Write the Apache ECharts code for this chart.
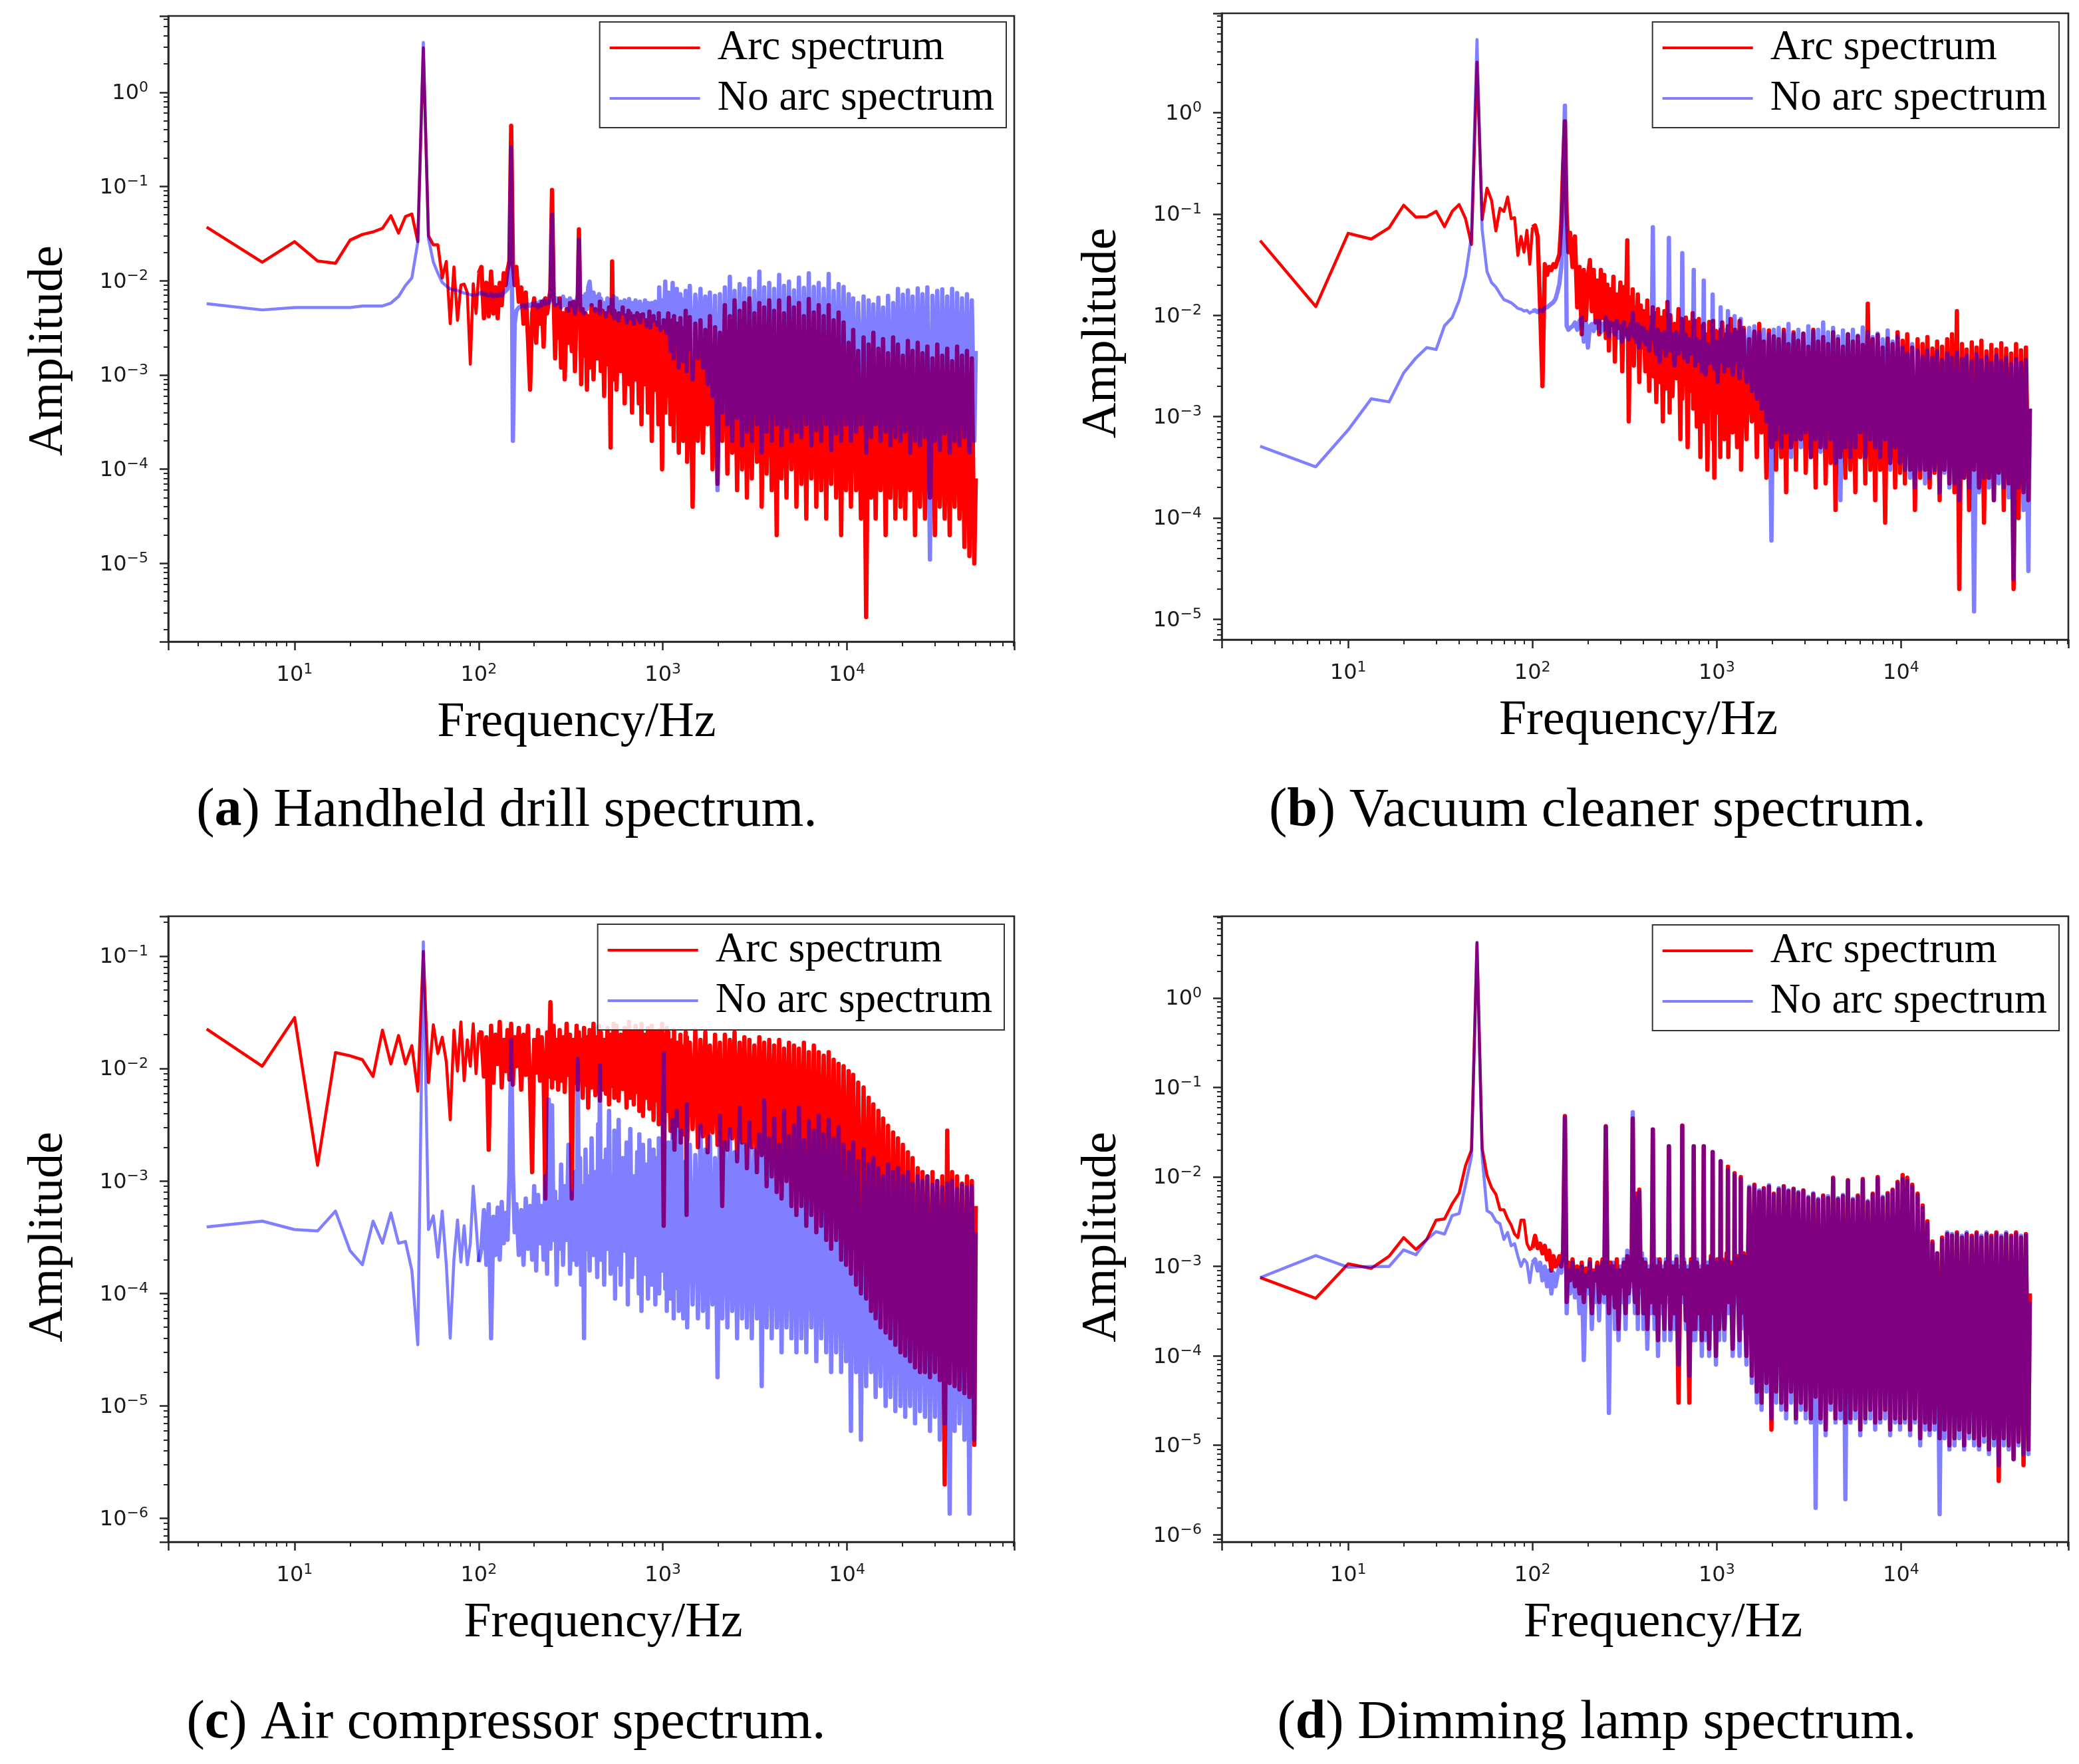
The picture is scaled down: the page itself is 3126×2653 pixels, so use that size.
<!DOCTYPE html>
<html><head><meta charset="utf-8">
<script src="https://cdn.jsdelivr.net/npm/echarts@6/dist/echarts.min.js"></script>
<style>html,body{margin:0;padding:0;background:#fff}#chart{width:3126px;height:2653px}</style>
</head><body><div id="chart"></div>
<script>
// ---------- frequencies (Hz) ----------
const FREQ_LOW = [3.33,6.67,10,13.33,16.67,20,23.33,26.67,30,33.33,
36.67,40,43.33,46.67,50,53.33,56.67,60,63.33,66.67,
70,73.33,76.67,80,83.33,86.67,90,93.33,96.67,100];
const FREQ_MID = [103.3,106.7,110,113.3,116.7,120,123.3,126.7,130,133.3,
136.7,140,143.3,146.7,150,153.3,156.7,160,165,170,
175,180,185,190,195,200,205,210,215,220,
225,230,235,240,245,250,255,260,265,270,
275,280,287,293,300,307,313,320,327,333,
340,345,350,355,360,367,373,380,387,393,
400,410,420,430,440,445,450,455,460,470,
480,490,500,510,520,530,540,545,550,555,
560,575,590,605,620,635,645,650,655,665,
680,695,710,725,740,745,750,755,765,780,
800,815,830,845,850,855,870,890,910,930,
945,950,955,970,990,1010,1030,1045,1050,1055];
const FREQ_HIGH = [1070,1100,1130,1145,1150,1155,1190,1220,1245,1250,
1255,1290,1330,1345,1350,1355,1400,1450,1500,1550,
1600,1650,1700,1750,1800,1860,1920,1980,2040,2100,
2170,2240,2310,2380,2450,2530,2610,2690,2770,2860,
2950,3040,3140,3240,3340,3440,3550,3660,3780,3900,
4020,4150,4280,4410,4550,4690,4840,4990,5150,5310,
5480,5650,5830,6010,6200,6400,6600,6810,7020,7240,
7470,7710,7950,8200,8460,8730,9000,9290,9580,9880,
10200,10500,10800,11200,11500,11900,12300,12700,13100,13500,
13900,14300,14800,15200,15700,16200,16700,17200,17800,18300,
18900,19500,20100,20700,21400,22000,22700,23400,24200,24900,
25700,26500,27300,28200,29100,30000,30900,31900,32900,33900,
35000,36100,37200,38400,39600,40800,42100,43400,44800,46200,
47600,49100,50000];

// ---------- (a) Handheld drill ----------
const A_ARC_LOW = [0.037,0.0157,0.026,0.0162,0.0153,0.027,0.031,0.033,0.036,0.049,
0.032,0.048,0.051,0.026,2.96,0.03,0.024,0.024,0.0107,0.016,
0.0035,0.014,0.0038,0.009,0.0092,0.0075,0.0013,0.0093,0.0045,0.012];
const A_ARC_MID = [0.014,0.004,0.0095,0.0042,0.0125,0.0045,0.0085,0.004,0.0095,0.0055,
0.012,0.009,0.013,0.016,0.44,0.015,0.009,0.014,0.006,0.0085,
0.0035,0.0075,0.0025,0.0007,0.0045,0.0065,0.0022,0.0055,0.0035,0.006,
0.002,0.0065,0.0045,0.006,0.008,0.092,0.007,0.0015,0.0055,0.0025,
0.0065,0.0012,0.0045,0.0009,0.005,0.0022,0.0058,0.0018,0.006,0.0011,
0.0055,0.006,0.035,0.0055,0.0008,0.005,0.0016,0.0045,0.0007,0.0042,
0.0012,0.0055,0.0009,0.005,0.0015,0.0045,0.0025,0.006,0.0011,0.0048,
0.0006,0.0045,0.0013,0.0052,0.00017,0.016,0.0009,0.0048,0.0014,0.0042,
0.0007,0.0045,0.0011,0.0052,0.0005,0.0043,0.0012,0.0048,0.0008,0.0045,
0.0004,0.0042,0.0009,0.0045,0.0005,0.0038,0.0012,0.0043,0.0003,0.0044,
0.0008,0.0038,0.0004,0.0047,0.0009,0.004,0.0002,0.0042,0.0007,0.0036,
0.0003,0.0045,0.0006,0.0032,0.0001,0.0038,0.0004,0.0033,0.0006,0.003];
const A_ARC_HIGH = [0.0045,0.0003,0.0038,0.0002,0.0042,0.0005,0.0035,0.00015,0.004,0.0003,
0.0032,0.0002,0.0048,0.0004,0.0036,0.00012,0.0041,0.00004,0.0035,0.0002,
0.0038,0.00015,0.003,0.0003,0.0042,0.0001,0.0032,0.00007,0.0028,0.0002,
0.0055,0.00009,0.0042,0.00015,0.0062,0.00006,0.0048,0.0001,0.0058,0.00005,
0.0065,0.00008,0.0045,0.00012,0.0058,0.00004,0.0052,0.00009,0.0062,0.00006,
0.0048,0.00002,0.0062,0.00008,0.0045,0.00005,0.0066,0.0001,0.0052,0.00004,
0.0058,0.00007,0.0042,0.00003,0.0064,0.00008,0.0046,0.00004,0.0055,0.00006,
0.0042,0.00003,0.0055,0.00007,0.0038,0.00005,0.0046,0.00002,0.0036,0.00006,
0.0022,0.00004,0.003,0.00006,0.0018,0.00003,0.0025,0.0000027,0.0021,0.00005,
0.0028,0.00003,0.0019,0.00006,0.0024,0.00002,0.0017,0.00005,0.0025,0.00003,
0.0021,0.00004,0.0016,0.00003,0.0023,0.00006,0.0018,0.00002,0.0022,0.00004,
0.0017,0.00003,0.002,0.00005,0.0015,0.00002,0.0021,0.00004,0.0016,0.00003,
0.0019,0.00002,0.0014,0.00004,0.002,0.00003,0.0016,0.000015,0.0018,0.000012,
0.0015,0.00001,0.00008];
const A_NO_LOW = [0.0057,0.0049,0.0052,0.0052,0.0052,0.0052,0.0054,0.0054,0.0054,0.0058,
0.0068,0.0089,0.0107,0.0256,3.39,0.028,0.0158,0.012,0.0096,0.0088,
0.0082,0.008,0.0079,0.0076,0.0074,0.0073,0.0071,0.007,0.0071,0.0072];
const A_NO_MID = [0.0075,0.0072,0.0071,0.007,0.0072,0.0068,0.0071,0.0069,0.0072,0.007,
0.0075,0.0078,0.0082,0.012,0.26,0.0002,0.0035,0.0048,0.0052,0.0054,
0.0055,0.0052,0.0056,0.0054,0.0057,0.0055,0.0058,0.0052,0.006,0.0055,
0.0062,0.0057,0.006,0.0058,0.0065,0.05,0.0062,0.0055,0.0065,0.0058,
0.006,0.0052,0.0068,0.0055,0.0062,0.0048,0.0065,0.0055,0.0058,0.0045,
0.0062,0.007,0.027,0.0065,0.0048,0.0068,0.0045,0.0072,0.005,0.0085,
0.0098,0.0055,0.0075,0.0048,0.0068,0.0052,0.0072,0.0045,0.0065,0.0052,
0.0058,0.0042,0.0065,0.0048,0.0062,0.0045,0.0068,0.004,0.0058,0.0048,
0.0065,0.0038,0.006,0.0045,0.0062,0.0036,0.0058,0.0048,0.0064,0.004,
0.0058,0.0035,0.0062,0.0042,0.0055,0.0038,0.006,0.0036,0.0056,0.0042,
0.0062,0.0033,0.0058,0.004,0.0055,0.0032,0.0058,0.0038,0.006,0.0034,
0.0056,0.0035,0.0085,0.003,0.0062,0.0032,0.0098,0.0028,0.0058,0.0036];
const A_NO_HIGH = [0.0075,0.0018,0.0095,0.0015,0.0068,0.0022,0.0082,0.0012,0.0072,0.0019,
0.0065,0.0014,0.0078,0.0011,0.0062,0.0018,0.0088,0.0009,0.0071,0.0015,
0.0082,0.0012,0.0068,0.0008,0.0075,0.0006,0.0069,0.00006,0.0072,0.0004,
0.0085,0.0003,0.011,0.0002,0.0078,0.00035,0.0092,0.00018,0.0083,0.00025,
0.0105,0.0002,0.0078,0.0003,0.0125,0.00015,0.0085,0.00025,0.0095,0.0002,
0.0082,0.0003,0.0115,0.00018,0.0088,0.00028,0.0098,0.0002,0.0079,0.00025,
0.0108,0.00022,0.0084,0.0003,0.012,0.00018,0.0086,0.00026,0.0095,0.0002,
0.0082,0.0003,0.0118,0.00016,0.0078,0.00024,0.0092,0.0002,0.0086,0.0003,
0.0072,0.0002,0.0065,0.00025,0.0058,0.0003,0.0068,0.00015,0.0062,0.00022,
0.0056,0.0003,0.0066,0.0002,0.0052,0.00025,0.0069,0.00018,0.0058,0.00022,
0.0082,0.0002,0.0071,0.00025,0.0079,0.00015,0.0068,0.0002,0.0083,0.00018,
0.0072,0.00022,0.0085,0.000011,0.0069,0.0002,0.0078,0.00016,0.0081,0.00024,
0.0068,0.00015,0.0082,0.0002,0.0074,0.00018,0.0065,0.00022,0.0072,0.00015,
0.0062,0.0002,0.0018];

// ---------- (b) Vacuum cleaner ----------
const B_ARC_LOW = [0.0546,0.0122,0.0645,0.0566,0.073,0.122,0.093,0.094,0.106,0.075,
0.106,0.124,0.09,0.05,3.15,0.088,0.18,0.136,0.068,0.114,
0.106,0.147,0.09,0.092,0.039,0.06,0.042,0.069,0.032,0.074];
const B_ARC_MID = [0.077,0.06,0.0123,0.002,0.032,0.025,0.03,0.028,0.032,0.03,
0.035,0.04,0.08,0.3,0.82,0.1,0.042,0.065,0.03,0.06,
0.012,0.03,0.0065,0.028,0.009,0.024,0.035,0.011,0.028,0.0085,
0.022,0.0065,0.028,0.0095,0.025,0.006,0.02,0.0045,0.018,0.008,
0.024,0.0035,0.016,0.0075,0.021,0.0028,0.019,0.0065,0.055,0.0009,
0.015,0.0045,0.018,0.0032,0.012,0.006,0.016,0.0022,0.0125,0.0048,
0.011,0.0028,0.014,0.0018,0.0095,0.0035,0.012,0.0025,0.0105,0.0014,
0.0115,0.0022,0.0095,0.0009,0.011,0.0019,0.0135,0.0028,0.0088,0.0011,
0.01,0.0016,0.0082,0.0024,0.0115,0.0006,0.0092,0.0015,0.0078,0.0021,
0.0095,0.0005,0.0085,0.0018,0.0105,0.0012,0.0072,0.0025,0.0088,0.0008,
0.0092,0.0004,0.0078,0.0014,0.0082,0.0009,0.0065,0.0003,0.0086,0.0012,
0.0075,0.0006,0.0088,0.00025,0.007,0.0011,0.0068,0.0004,0.0072,0.0009];
const B_ARC_HIGH = [0.0085,0.0006,0.0065,0.0009,0.0078,0.0004,0.0092,0.0007,0.0062,0.0011,
0.0072,0.0005,0.0088,0.0008,0.0066,0.0003,0.0075,0.0006,0.0058,0.0009,
0.0069,0.0004,0.0082,0.0007,0.0055,0.00025,0.0071,0.0005,0.0062,0.0003,
0.0058,0.0004,0.0072,0.00018,0.0052,0.0005,0.0068,0.0003,0.0056,0.0006,
0.0066,0.00028,0.0049,0.0004,0.0072,0.0002,0.0055,0.0005,0.0061,0.00022,
0.0052,0.00035,0.0068,0.00012,0.0058,0.0004,0.0049,0.00025,0.0065,0.0003,
0.0055,0.00018,0.0062,0.0004,0.0051,0.00022,0.013,0.0003,0.0058,0.00015,
0.0064,0.0003,0.0048,0.00009,0.0059,0.00035,0.0052,0.0002,0.0068,0.00028,
0.0056,0.00022,0.0065,0.0003,0.0048,0.00012,0.0058,0.00025,0.0052,0.0003,
0.0061,0.0002,0.0047,0.00028,0.0055,0.00015,0.0049,0.0003,0.0058,0.00022,
0.0065,0.00018,0.011,0.00002,0.0052,0.00025,0.0046,0.00012,0.0054,0.0003,
0.0048,0.0002,0.0056,0.00009,0.0044,0.00025,0.0051,0.00015,0.0046,0.00028,
0.0053,0.00012,0.0047,0.00022,0.0042,0.00002,0.0052,0.0001,0.0045,0.00018,
0.0048,0.00015,0.0012];
const B_NO_LOW = [0.00051,0.00032,0.00074,0.0015,0.0014,0.0027,0.0038,0.0048,0.0046,0.0079,
0.0095,0.014,0.0245,0.061,5.25,0.07,0.027,0.021,0.019,0.0163,
0.0143,0.0138,0.0133,0.0125,0.0117,0.0115,0.011,0.0112,0.0105,0.011];
const B_NO_MID = [0.0112,0.0108,0.0113,0.011,0.0118,0.012,0.0125,0.013,0.0135,0.0145,
0.017,0.0205,0.03,0.2,1.17,0.0079,0.0072,0.0075,0.0078,0.0085,
0.0072,0.0088,0.0095,0.0055,0.0085,0.0048,0.0078,0.0082,0.007,0.0088,
0.0075,0.0088,0.0068,0.0082,0.0072,0.0095,0.0078,0.0062,0.0085,0.007,
0.0082,0.0065,0.0088,0.006,0.0078,0.0055,0.0085,0.0062,0.0072,0.0058,
0.0081,0.0068,0.0105,0.0062,0.0078,0.0055,0.0082,0.0048,0.0076,0.0058,
0.0075,0.0052,0.0068,0.0045,0.007,0.0085,0.074,0.0075,0.0058,0.0042,
0.0072,0.0035,0.0065,0.0048,0.0068,0.004,0.0062,0.0075,0.058,0.0068,
0.0045,0.0065,0.0032,0.0068,0.0042,0.0062,0.0058,0.041,0.0055,0.0038,
0.0064,0.0035,0.0058,0.0042,0.0052,0.0055,0.028,0.0048,0.0032,0.0058,
0.0036,0.0055,0.0028,0.0045,0.022,0.004,0.0026,0.0052,0.0034,0.0048,
0.0042,0.016,0.004,0.003,0.0055,0.0022,0.0048,0.0045,0.012,0.0035];
const B_NO_HIGH = [0.0058,0.0028,0.0072,0.0035,0.011,0.0032,0.0065,0.0026,0.0038,0.0098,
0.0035,0.0068,0.0024,0.0042,0.0092,0.003,0.0071,0.0022,0.0075,0.0018,
0.0078,0.0015,0.0068,0.0012,0.0072,0.0009,0.0065,0.00006,0.0072,0.0006,
0.0075,0.0005,0.0068,0.0007,0.0082,0.0004,0.0065,0.0006,0.0072,0.0005,
0.0066,0.0007,0.0078,0.0004,0.0069,0.0006,0.0072,0.00045,0.0085,0.0005,
0.0068,0.0006,0.0075,0.00035,0.0062,0.00015,0.0071,0.0005,0.0065,0.0004,
0.0072,0.0005,0.0063,0.0007,0.0076,0.0004,0.0068,0.0006,0.0061,0.0005,
0.0066,0.0004,0.0058,0.0006,0.0071,0.0003,0.0055,0.0005,0.0062,0.00035,
0.0048,0.0003,0.0042,0.00025,0.0052,0.0002,0.0045,0.0003,0.0039,0.00022,
0.0045,0.00025,0.0038,0.0003,0.0044,0.00018,0.0036,0.00028,0.0042,0.0002,
0.0038,0.00022,0.0043,0.00015,0.0037,0.00025,0.004,0.0002,0.0035,0.000012,
0.0041,0.00018,0.0036,0.00025,0.0039,0.0002,0.0034,0.00015,0.004,0.00022,
0.0035,0.0002,0.0038,0.00016,0.0033,0.000025,0.0037,0.0002,0.0034,0.00012,
0.0036,0.00003,0.0012];

// ---------- (c) Air compressor ----------
const C_ARC_LOW = [0.0225,0.0105,0.0284,0.00138,0.0139,0.013,0.012,0.0085,0.022,0.011,
0.0197,0.011,0.016,0.0063,0.11,0.0075,0.0245,0.0136,0.019,0.0115,
0.0035,0.022,0.0095,0.026,0.0078,0.018,0.0105,0.025,0.009,0.021];
const C_ARC_MID = [0.021,0.0085,0.019,0.0019,0.024,0.0075,0.02,0.011,0.026,0.0068,
0.018,0.0095,0.022,0.008,0.025,0.0072,0.019,0.0105,0.023,0.0065,
0.02,0.0088,0.024,0.0072,0.0012,0.018,0.0092,0.022,0.0078,0.019,
0.0095,0.0007,0.021,0.0085,0.039,0.0068,0.024,0.0082,0.018,0.0065,
0.022,0.0078,0.019,0.0062,0.025,0.0088,0.02,0.0007,0.018,0.0075,
0.024,0.0065,0.021,0.0082,0.018,0.0055,0.023,0.0072,0.019,0.0045,
0.022,0.0068,0.025,0.0058,0.019,0.0075,0.024,0.0052,0.021,0.0065,
0.018,0.006,0.023,0.0048,0.02,0.007,0.025,0.0055,0.019,0.0062,
0.024,0.0052,0.02,0.0066,0.023,0.0045,0.019,0.0062,0.026,0.0055,
0.021,0.0048,0.024,0.0062,0.018,0.0042,0.022,0.0058,0.025,0.0038,
0.02,0.0055,0.023,0.0044,0.019,0.006,0.024,0.0035,0.021,0.0052,
0.018,0.0032,0.022,0.005,0.025,0.0004,0.02,0.0046,0.023,0.0042];
const C_ARC_HIGH = [0.021,0.0028,0.018,0.0024,0.022,0.0019,0.017,0.0031,0.02,0.0022,
0.016,0.0026,0.021,0.0005,0.019,0.0023,0.017,0.0029,0.022,0.002,
0.018,0.0025,0.021,0.0018,0.016,0.0027,0.02,0.0021,0.017,0.0006,
0.02,0.0019,0.018,0.0024,0.021,0.0015,0.017,0.0022,0.019,0.0013,
0.018,0.002,0.016,0.0012,0.019,0.0017,0.017,0.0009,0.018,0.0011,
0.016,0.0008,0.018,0.0007,0.015,0.001,0.017,0.0006,0.016,0.0005,
0.015,0.0006,0.017,0.0004,0.014,0.0005,0.016,0.00035,0.014,0.0004,
0.013,0.0003,0.014,0.00025,0.012,0.0003,0.011,0.0002,0.0105,0.00018,
0.0095,0.00015,0.0088,0.00012,0.0075,0.0001,0.0068,0.00009,0.0055,0.00007,
0.0048,0.00006,0.0042,0.00005,0.0036,0.000045,0.0031,0.00004,0.0027,0.000035,
0.0024,0.00003,0.0021,0.000028,0.0018,0.000025,0.0016,0.000022,0.0013,0.00002,
0.0012,0.00002,0.0011,0.000018,0.0012,0.00002,0.001,0.000017,0.0011,0.000002,
0.0028,0.000016,0.0012,0.000015,0.0011,0.000014,0.00095,0.000013,0.0011,0.000012,
0.001,0.0000045,0.0006];
const C_NO_LOW = [0.00039,0.00044,0.00037,0.00036,0.00054,0.00024,0.00018,0.00044,0.00028,0.00052,
0.00028,0.00029,0.00016,0.000035,0.134,0.00037,0.00049,0.00021,0.00054,0.00018,
0.00004,0.0002,0.00045,0.00019,0.0004,0.00018,0.00028,0.0009,0.00042,0.00019];
const C_NO_MID = [0.00025,0.00055,0.00018,0.00062,0.00004,0.00048,0.00022,0.00058,0.0002,0.00065,
0.00028,0.00052,0.0003,0.0011,0.018,0.0012,0.00035,0.00062,0.00022,0.00055,
0.00018,0.0007,0.00025,0.0006,0.0002,0.0009,0.00016,0.00075,0.00028,0.0006,
0.0002,0.0011,0.00015,0.0053,0.00025,0.0047,0.0003,0.0008,0.00012,0.00065,
0.00025,0.0014,0.00018,0.0009,0.0003,0.0021,0.00015,0.0008,0.0002,0.0012,
0.00018,0.0121,0.0003,0.0016,0.00012,0.0009,0.00004,0.0019,0.00025,0.0011,
0.00016,0.0024,0.00022,0.0012,0.00014,0.0032,0.00028,0.0107,0.0002,0.0015,
0.00012,0.0019,0.00025,0.0042,0.00015,0.0011,0.00022,0.0028,0.00009,0.0014,
0.00018,0.0035,0.00012,0.0016,0.00024,0.0022,0.00008,0.0013,0.00016,0.0029,
0.00014,0.0011,0.00022,0.0018,0.0001,0.0026,0.00016,0.0012,0.00007,0.0021,
0.00015,0.0014,0.00009,0.0023,0.00018,0.0011,0.00012,0.0019,0.00008,0.0016,
0.00013,0.0024,0.0001,0.0015,0.00016,0.0136,0.00011,0.0018,0.00007,0.0013];
const C_NO_HIGH = [0.0022,0.00009,0.0035,0.00006,0.0016,0.00011,0.0042,0.00007,0.0019,0.0001,
0.0028,0.00006,0.0015,0.00009,0.0048,0.00005,0.0021,0.00008,0.0017,0.00006,
0.0031,0.00007,0.0019,0.00005,0.0025,0.00008,0.0016,0.000018,0.0038,0.00006,
0.0022,0.00005,0.0029,0.00007,0.0018,0.00004,0.0045,0.00006,0.0021,0.00005,
0.0033,0.00004,0.0019,0.00006,0.0026,0.000015,0.0052,0.00005,0.0024,0.00004,
0.0036,0.00005,0.0021,0.00003,0.0042,0.00005,0.0025,0.00004,0.0031,0.00003,
0.0045,0.00004,0.0023,0.00003,0.0034,0.00005,0.0028,0.000025,0.0038,0.00004,
0.0026,0.00003,0.0035,0.00002,0.0024,0.00003,0.003,0.00002,0.0021,0.000025,
0.0018,0.000006,0.0022,0.00002,0.0015,0.000005,0.0019,0.000015,0.0014,0.00002,
0.0016,0.000012,0.0013,0.000015,0.0011,0.00001,0.0014,0.000012,0.0012,0.000009,
0.0013,0.00001,0.0011,0.000008,0.0012,0.00001,0.00095,0.000007,0.0011,0.000009,
0.001,0.000008,0.0011,0.000006,0.00092,0.000008,0.001,0.000005,0.00088,0.000007,
0.00095,0.0000011,0.001,0.000006,0.00085,0.000007,0.00092,0.000005,0.00088,0.0000011,
0.0009,0.000005,0.00035];

// ---------- (d) Dimming lamp ----------
const D_ARC_LOW = [0.00075,0.00044,0.00107,0.00095,0.0013,0.0021,0.00155,0.002,0.0033,0.0034,
0.005,0.0066,0.0134,0.02,4.14,0.021,0.0104,0.0076,0.0064,0.0043,
0.0043,0.0034,0.0029,0.0023,0.0021,0.0033,0.0033,0.0018,0.00155,0.0016];
const D_ARC_MID = [0.0022,0.0016,0.0018,0.0014,0.0017,0.0012,0.0015,0.0009,0.0013,0.001,
0.0011,0.0013,0.001,0.0015,0.048,0.0004,0.0011,0.0007,0.0012,0.0006,
0.001,0.0005,0.0011,0.0004,0.00095,0.0006,0.0012,0.0003,0.0009,0.0007,
0.0011,0.0004,0.0008,0.0012,0.0005,0.037,0.0009,0.0003,0.0011,0.0005,
0.001,0.00035,0.0012,0.0002,0.0009,0.0006,0.0011,0.0003,0.0013,0.0005,
0.001,0.0007,0.045,0.0008,0.0004,0.0065,0.0003,0.0072,0.0006,0.0012,
0.0003,0.0011,0.0002,0.0009,0.0004,0.0012,0.034,0.0007,0.0003,0.001,
0.00015,0.0012,0.0004,0.0009,0.0002,0.0011,0.0005,0.0013,0.022,0.0008,
0.0002,0.001,0.0003,0.0012,0.00003,0.0009,0.0006,0.0376,0.0005,0.0011,
0.00025,0.0009,0.00003,0.0012,0.0002,0.0008,0.022,0.0006,0.0002,0.0011,
0.0003,0.0009,0.00015,0.0012,0.022,0.0005,0.0002,0.001,0.00012,0.0013,
0.0004,0.019,0.0003,0.0011,0.0001,0.0012,0.0002,0.0009,0.015,0.0004];
const D_ARC_HIGH = [0.0012,0.0002,0.0014,0.0006,0.013,0.0004,0.0011,0.00012,0.0008,0.011,
0.0005,0.0013,0.00015,0.0009,0.01,0.0003,0.0014,0.0001,0.0075,0.00006,
0.0082,0.00004,0.0068,0.00003,0.0075,0.00005,0.0078,0.000015,0.0065,0.00004,
0.0072,0.00003,0.0079,0.000025,0.0069,0.00004,0.0074,0.00002,0.0066,0.00003,
0.0071,0.000025,0.0058,0.00002,0.0064,0.000035,0.0055,0.00002,0.0062,0.000015,
0.0058,0.00003,0.0098,0.00002,0.0056,0.000025,0.0061,0.000018,0.0092,0.00002,
0.0055,0.000025,0.0062,0.000015,0.0095,0.00002,0.0052,0.000025,0.0065,0.000018,
0.01,0.00002,0.0058,0.000025,0.0066,0.000015,0.0072,0.00002,0.0088,0.000018,
0.0105,0.00002,0.0098,0.000015,0.0082,0.00002,0.0065,0.000012,0.0048,0.000018,
0.0032,0.000015,0.0019,0.000018,0.0014,0.000012,0.0021,0.000015,0.0023,0.00001,
0.0022,0.000012,0.0024,0.000015,0.0021,0.00001,0.0023,0.000014,0.0022,0.000012,
0.0024,0.00001,0.0021,0.000013,0.0023,0.000009,0.0022,0.000012,0.0024,0.000004,
0.0021,0.000012,0.0023,0.00001,0.0022,0.000007,0.0024,0.000011,0.0021,0.000006,
0.0023,0.000009,0.0005];
const D_NO_LOW = [0.00075,0.00132,0.00098,0.001,0.001,0.00153,0.00135,0.002,0.00245,0.0023,
0.0037,0.0039,0.0081,0.017,4.2,0.017,0.0042,0.0039,0.0032,0.003,
0.002,0.0024,0.0017,0.0018,0.0013,0.001,0.0012,0.0011,0.00066,0.0011];
const D_NO_MID = [0.0012,0.0009,0.0011,0.0007,0.001,0.0006,0.0009,0.0005,0.00085,0.0006,
0.0008,0.001,0.00085,0.0013,0.046,0.0003,0.0009,0.0005,0.0011,0.00045,
0.0009,0.0003,0.001,0.00009,0.0008,0.0005,0.0011,0.0002,0.00085,0.0004,
0.001,0.00025,0.0009,0.0011,0.0004,0.036,0.0006,0.000023,0.001,0.0004,
0.0011,0.0002,0.0009,0.00015,0.001,0.0004,0.0012,0.0002,0.0015,0.0004,
0.0012,0.0006,0.053,0.0007,0.0003,0.0058,0.0002,0.0068,0.0005,0.0014,
0.0002,0.0012,0.00012,0.001,0.0003,0.0011,0.034,0.0006,0.0002,0.0012,
0.0001,0.0011,0.0003,0.001,0.00015,0.0012,0.0004,0.0011,0.022,0.0007,
0.00015,0.0011,0.0002,0.0013,0.00008,0.001,0.0005,0.037,0.0004,0.0012,
0.0002,0.001,0.00006,0.0011,0.00015,0.0009,0.022,0.0005,0.00015,0.0012,
0.0002,0.001,0.0001,0.0011,0.022,0.0004,0.00015,0.0011,0.0001,0.0012,
0.0003,0.019,0.0002,0.0012,0.00008,0.0011,0.00015,0.001,0.015,0.0003];
const D_NO_HIGH = [0.0011,0.00015,0.0012,0.0005,0.012,0.0003,0.001,0.0001,0.0007,0.0105,
0.0004,0.0012,0.0001,0.0008,0.0095,0.0002,0.0013,0.00008,0.0078,0.00005,
0.0079,0.00003,0.0071,0.000025,0.0073,0.00004,0.0081,0.00002,0.0063,0.00003,
0.0075,0.000025,0.0077,0.00002,0.0071,0.00003,0.0072,0.000018,0.0068,0.000025,
0.0069,0.00002,0.006,0.000018,0.0066,0.000002,0.0057,0.000018,0.006,0.000013,
0.0061,0.000025,0.0095,0.000018,0.0058,0.00002,0.0063,0.0000025,0.009,0.000018,
0.0057,0.00002,0.006,0.000013,0.0092,0.000018,0.0054,0.00002,0.0063,0.000015,
0.0097,0.000018,0.006,0.00002,0.0064,0.000013,0.007,0.000018,0.0085,0.000015,
0.0095,0.000018,0.009,0.000013,0.0078,0.000018,0.0062,0.00001,0.0045,0.000015,
0.003,0.000013,0.0018,0.000015,0.0014,0.0000017,0.002,0.000012,0.0024,0.000009,
0.0023,0.00001,0.0023,0.000012,0.0022,0.000009,0.0024,0.000012,0.0021,0.00001,
0.0023,0.000009,0.0022,0.000011,0.0024,0.000008,0.0021,0.00001,0.0023,0.000006,
0.0022,0.00001,0.0024,0.000009,0.0021,0.000007,0.0023,0.00001,0.0022,0.000008,
0.0022,0.000008,0.0004];

// ---------- labels ----------
const SERIES_NAMES = ['Arc spectrum', 'No arc spectrum'];
const CAPTION_LETTERS = ['a', 'b', 'c', 'd'];
const CAPTION_TEXTS = ['Handheld drill spectrum.', 'Vacuum cleaner spectrum.', 'Air compressor spectrum.', 'Dimming lamp spectrum.'];
const X_LIMITS = [2.06, 80900];
const Y_LIMIT_EXP = [[-5.83, 0.81], [-5.2, 0.98], [-6.21, -0.645], [-6.08, 0.915]];

// ---------- build ----------
const FREQ = FREQ_LOW.concat(FREQ_MID, FREQ_HIGH);
const N_LOW = FREQ_LOW.length;
function pairs(a, b, c) {
  const amp = a.concat(b, c);
  const n = Math.min(FREQ.length, amp.length);
  const out = [];
  for (let i = 0; i < n; i++) out.push([FREQ[i], amp[i]]);
  return out;
}
const ARC = [pairs(A_ARC_LOW, A_ARC_MID, A_ARC_HIGH), pairs(B_ARC_LOW, B_ARC_MID, B_ARC_HIGH),
             pairs(C_ARC_LOW, C_ARC_MID, C_ARC_HIGH), pairs(D_ARC_LOW, D_ARC_MID, D_ARC_HIGH)];
const NOARC = [pairs(A_NO_LOW, A_NO_MID, A_NO_HIGH), pairs(B_NO_LOW, B_NO_MID, B_NO_HIGH),
               pairs(C_NO_LOW, C_NO_MID, C_NO_HIGH), pairs(D_NO_LOW, D_NO_MID, D_NO_HIGH)];

const LAYOUT = [
  {grid: {left: 253, top: 24, width: 1272, height: 941}, legend: {right: 1613, top: 33}, cap: [762, 1220], xShift: -22, yShift: 33},
  {grid: {left: 1837, top: 20, width: 1273, height: 942}, legend: {right: 30, top: 33}, cap: [2402, 1220], xShift: -10, yShift: 10},
  {grid: {left: 253, top: 1378, width: 1272, height: 941}, legend: {right: 1616, top: 1390}, cap: [761, 2592], xShift: 18, yShift: 12},
  {grid: {left: 1837, top: 1378, width: 1273, height: 941}, legend: {right: 30, top: 1391}, cap: [2401, 2592], xShift: 27, yShift: 12}
];

function powLabel(v) {
  const e = Math.round(Math.log10(v));
  return '{n|10}{s|' + String(e).replace('-', '\u2212') + '}';
}
const TICK_RICH = {
  n: {fontFamily: 'DejaVu Sans', fontSize: 32, lineHeight: 36, color: '#1a1a1a', verticalAlign: 'bottom'},
  s: {fontFamily: 'DejaVu Sans', fontSize: 22, lineHeight: 22, color: '#1a1a1a', verticalAlign: 'top'}
};
const INK = '#262626';
const SERIF = 'Liberation Serif';
const RED = '#ff0000', BLUE = 'rgba(0,0,255,0.5)';
const grids = [], xAxes = [], yAxes = [], series = [], legends = [], graphics = [];

function lineSeries(name, i, data, color, width, z) {
  return {
    type: 'line', name: name, xAxisIndex: i, yAxisIndex: i, data: data,
    showSymbol: false, symbol: 'none', animation: false, silent: true, z: z,
    color: color, itemStyle: {color: color},
    lineStyle: {color: color, width: width, join: 'round'}
  };
}

LAYOUT.forEach((L, i) => {
  grids.push(Object.assign({show: true, borderColor: INK, borderWidth: 2.6, backgroundColor: 'transparent', containLabel: false, outerBoundsMode: 'none'}, L.grid));
  const common = {
    gridIndex: i, type: 'log', logBase: 10,
    axisLine: {show: true, lineStyle: {color: INK, width: 2.6}},
    axisTick: {show: true, inside: false, length: 13, lineStyle: {color: INK, width: 2.5}},
    minorTick: {show: true, splitNumber: 9, length: 7, lineStyle: {color: INK, width: 2}},
    splitLine: {show: false}, minorSplitLine: {show: false},
    nameLocation: 'middle'
  };
  const xs = L.xShift;
  xAxes.push(Object.assign({}, common, {
    min: X_LIMITS[0], max: X_LIMITS[1],
    axisLabel: {formatter: powLabel, rich: TICK_RICH, margin: 31, showMinLabel: false, showMaxLabel: false},
    name: 'Frequency/Hz', nameGap: 86,
    nameTextStyle: {fontFamily: SERIF, fontSize: 74, color: '#000', padding: xs < 0 ? [0, -2 * xs, 0, 0] : [0, 0, 0, 2 * xs]}
  }));
  const ys = L.yShift;
  yAxes.push(Object.assign({}, common, {
    min: Math.pow(10, Y_LIMIT_EXP[i][0]), max: Math.pow(10, Y_LIMIT_EXP[i][1]),
    axisLabel: {formatter: powLabel, rich: TICK_RICH, margin: 30, showMinLabel: false, showMaxLabel: false},
    name: 'Amplitude', nameGap: 142, nameRotate: 90,
    nameTextStyle: {fontFamily: SERIF, fontSize: 74, color: '#000', padding: [0, 2 * ys, 0, 0]}
  }));
  // sparse low-frequency part (thin) and dense upper part (wider stroke to render the dense fill)
  series.push(lineSeries(SERIES_NAMES[0], i, ARC[i].slice(0, N_LOW), RED, 4.5, 2));
  series.push(lineSeries(SERIES_NAMES[0], i, ARC[i].slice(N_LOW - 1), RED, 6.5, 2));
  series.push(lineSeries(SERIES_NAMES[1], i, NOARC[i].slice(0, N_LOW), BLUE, 4.5, 3));
  series.push(lineSeries(SERIES_NAMES[1], i, NOARC[i].slice(N_LOW - 1), BLUE, 6.5, 3));
  legends.push({
    orient: 'vertical', right: L.legend.right, top: L.legend.top, data: SERIES_NAMES,
    icon: 'rect', itemWidth: 136, itemHeight: 4, itemGap: 0, selectedMode: false,
    padding: [1, 18, 6, 15], borderColor: '#333', borderWidth: 2, backgroundColor: 'rgba(255,255,255,0.85)',
    textStyle: {fontFamily: SERIF, fontSize: 63, color: '#000', lineHeight: 76, padding: [0, 0, 0, 21]}
  });
  graphics.push({
    type: 'text', x: L.cap[0], y: L.cap[1], silent: true,
    style: {
      text: '{p|(}{b|' + CAPTION_LETTERS[i] + '}{p|) ' + CAPTION_TEXTS[i] + '}',
      align: 'center', verticalAlign: 'middle',
      rich: {
        p: {fontFamily: SERIF, fontSize: 82, lineHeight: 92, fill: '#000', color: '#000'},
        b: {fontFamily: SERIF, fontSize: 82, lineHeight: 92, fontWeight: 'bold', fill: '#000', color: '#000'}
      }
    }
  });
});

const chart = echarts.init(document.getElementById('chart'), null, {renderer: 'canvas'});
chart.setOption({
  backgroundColor: '#ffffff',
  animation: false,
  grid: grids, xAxis: xAxes, yAxis: yAxes, series: series, legend: legends,
  graphic: graphics
});
</script>
</body></html>
